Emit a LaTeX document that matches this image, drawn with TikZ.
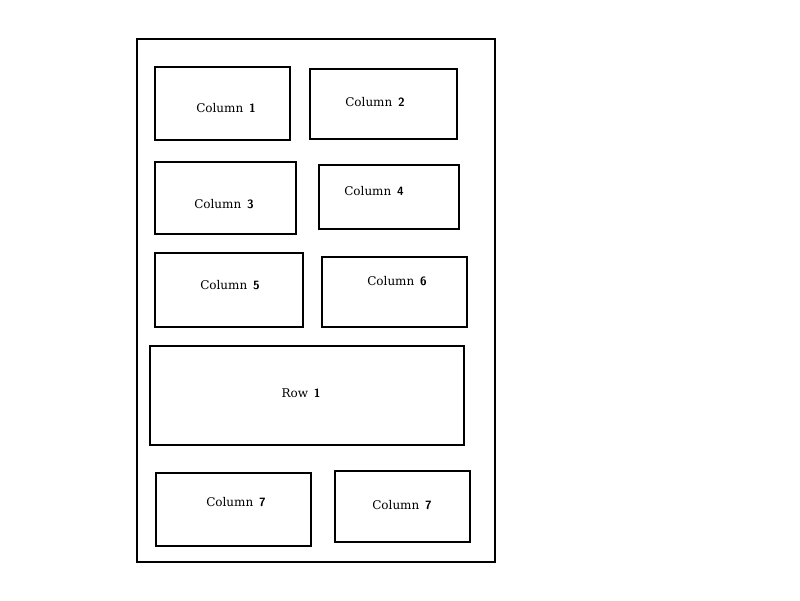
\documentclass[tikz,border=0pt]{standalone}
\usepackage{fontspec}
\setmainfont{DejaVu Serif}
\begin{document}
\begin{tikzpicture}[x=1pt,y=-1pt,
  box/.style={draw=black,line width=2pt,rectangle,inner sep=0pt},
  lbl/.style={font=\fontsize{12}{14}\selectfont,text=black,inner sep=0pt}]
\useasboundingbox (0,0) rectangle (800,600);
\newcommand{\mkbox}[5]{\node[box,minimum width=#4-#2,minimum height=#5-#3] (#1) at ({(#2+#4)/2},{(#3+#5)/2}) {};}
\mkbox{outer}{137}{39}{495}{562}
\mkbox{c1}{155}{67}{290}{140}
\mkbox{c2}{310}{69}{457}{139}
\mkbox{c3}{155}{162}{296}{234}
\mkbox{c4}{319}{165}{459}{229}
\mkbox{c5}{155}{253}{303}{327}
\mkbox{c6}{322}{257}{467}{327}
\mkbox{r1}{150}{346}{464}{445}
\mkbox{c7a}{156}{473}{311}{546}
\mkbox{c7b}{335}{471}{470}{542}
\node[lbl] (t1) at (226,108) {Column\, \textsf{\bfseries 1}};
\node[lbl] (t2) at (375,102) {Column\, \textsf{\bfseries 2}};
\node[lbl] (t3) at (224,204) {Column\, \textsf{\bfseries 3}};
\node[lbl] (t4) at (374,191) {Column\, \textsf{\bfseries 4}};
\node[lbl] (t5) at (230,285) {Column\, \textsf{\bfseries 5}};
\node[lbl] (t6) at (397,281) {Column\, \textsf{\bfseries 6}};
\node[lbl] (tr) at (301,393) {Row\, \textsf{\bfseries 1}};
\node[lbl] (t7a) at (236,502) {Column\, \textsf{\bfseries 7}};
\node[lbl] (t7b) at (402,505) {Column\, \textsf{\bfseries 7}};
\end{tikzpicture}
\end{document}
